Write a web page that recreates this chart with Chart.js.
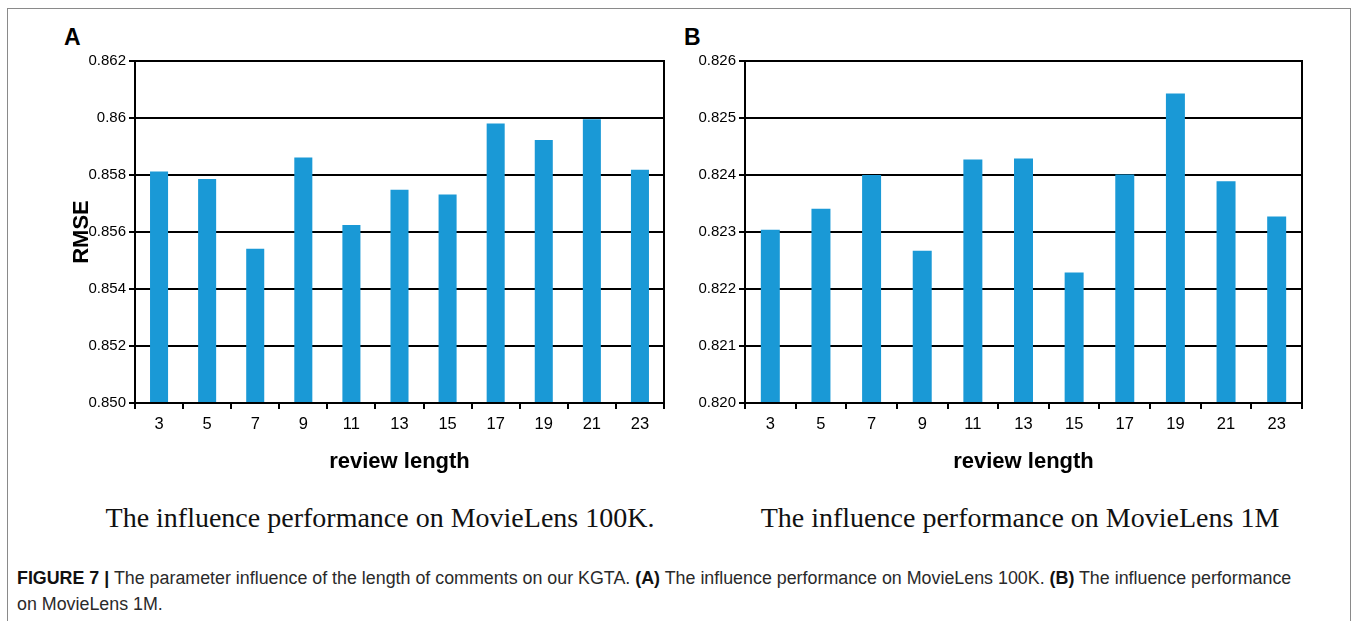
<!DOCTYPE html>
<html>
<head>
<meta charset="utf-8">
<script src="https://cdn.jsdelivr.net/npm/chart.js@4.4.1/dist/chart.umd.min.js"></script>
<style>
    html, body { margin: 0; padding: 0; background: #fff; }
    body { width: 1356px; height: 621px; position: relative; overflow: hidden; font-family: "Liberation Sans", Arial, sans-serif; }
    .frame { position: absolute; left: 7px; top: 8px; width: 1344px; height: 640px;
             border: 1.5px solid #8a8a8a; box-sizing: border-box; }
    .box { position: absolute; top: 30px; width: 660px; height: 460px; }
    .letter { position: absolute; font-weight: bold; font-size: 23px; color: #000; }
    .sub { position: absolute; top: 502px; font-family: "Liberation Serif", "Times New Roman", serif;
           font-size: 28px; color: #111; text-align: center; width: 700px; white-space: nowrap; }
    .caption { position: absolute; left: 17px; top: 565px; font-size: 17.85px; line-height: 26px; color: #2a2a2a; white-space: nowrap; }
    .caption b { color: #111; }
</style>
</head>
<body>
<div class="frame"></div>
<div class="letter" style="left:64px; top:24px;">A</div>
<div class="letter" style="left:684px; top:24px;">B</div>
<div class="box" style="left:20px;"><canvas id="chartA"></canvas></div>
<div class="box" style="left:680px;"><canvas id="chartB"></canvas></div>
<div class="sub" style="left:30px;">The influence performance on MovieLens 100K.</div>
<div class="sub" style="left:670px;">The influence performance on MovieLens 1M</div>
<div class="caption"><b>FIGURE 7 |</b> The parameter influence of the length of comments on our KGTA. <b>(A)</b> The influence performance on MovieLens 100K. <b>(B)</b> The influence performance<br>on MovieLens 1M.</div>

<script>
// ── Data ──────────────────────────────────────────────
var reviewLengths = ['3', '5', '7', '9', '11', '13', '15', '17', '19', '21', '23'];
var rmse100K = [0.85812, 0.85786, 0.85541, 0.85861, 0.85625, 0.85748, 0.85732, 0.85981, 0.85923, 0.85996, 0.85818];
var rmse1M   = [0.82304, 0.82341, 0.82400, 0.82267, 0.82427, 0.82429, 0.82229, 0.82401, 0.82543, 0.82389, 0.82327];
var yTicks100K = ['0.850', '0.852', '0.854', '0.856', '0.858', '0.86', '0.862'];
var yTicks1M   = ['0.820', '0.821', '0.822', '0.823', '0.824', '0.825', '0.826'];

var BAR_COLOR = '#1a99d6';

// box around the plotting area (right edge is not drawn by the axes)
var plotFrame = {
    id: 'plotFrame',
    afterDatasetsDraw: function (chart) {
        var a = chart.chartArea, ctx = chart.ctx;
        ctx.save();
        ctx.strokeStyle = '#000';
        ctx.lineWidth = 2;
        ctx.strokeRect(a.left, a.top, a.right - a.left, a.bottom - a.top);
        ctx.restore();
    }
};

function makeChart(id, values, yLabels, min, max, step, opts) {
    var ctx = document.getElementById(id);
    return new Chart(ctx, {
        type: 'bar',
        data: {
            labels: reviewLengths,
            datasets: [{
                data: values,
                backgroundColor: BAR_COLOR,
                borderWidth: 0,
                barPercentage: 0.375,
                categoryPercentage: 1
            }]
        },
        options: {
            responsive: true,
            maintainAspectRatio: false,
            animation: false,
            layout: { padding: { top: 31, right: opts.padRight, bottom: 0, left: 0 } },
            plugins: { legend: { display: false }, tooltip: { enabled: false } },
            scales: {
                x: {
                    grid: { offset: true, drawOnChartArea: false, color: '#000', lineWidth: 2, tickLength: 6 },
                    border: { color: '#000', width: 2 },
                    ticks: { color: '#000', font: { family: 'Liberation Sans', size: 16.5 }, padding: 6, maxRotation: 0 },
                    title: { display: true, text: 'review length', color: '#000',
                             font: { family: 'Liberation Sans', size: 22, weight: 'bold' },
                             padding: { top: 0, bottom: 15 } },
                    afterFit: function (s) { s.height = 87; }
                },
                y: {
                    min: min, max: max,
                    grid: { color: '#000', lineWidth: 2, tickLength: 6 },
                    border: { color: '#000', width: 2 },
                    ticks: {
                        stepSize: step, color: '#000', padding: 3,
                        font: { family: 'Liberation Sans', size: 15 },
                        callback: function (v, i) { return yLabels[i]; }
                    },
                    title: { display: opts.yTitle, text: 'RMSE', color: '#000',
                             font: { family: 'Liberation Sans', size: 22, weight: 'bold' },
                             padding: { top: 49, bottom: 0 } },
                    afterFit: function (s) { s.width = opts.yWidth; }
                }
            }
        },
        plugins: [plotFrame]
    });
}

makeChart('chartA', rmse100K, yTicks100K, 0.850, 0.862, 0.002, { yWidth: 115, padRight: 16, yTitle: true });
makeChart('chartB', rmse1M, yTicks1M, 0.820, 0.826, 0.001, { yWidth: 65, padRight: 38, yTitle: false });
</script>
</body>
</html>
